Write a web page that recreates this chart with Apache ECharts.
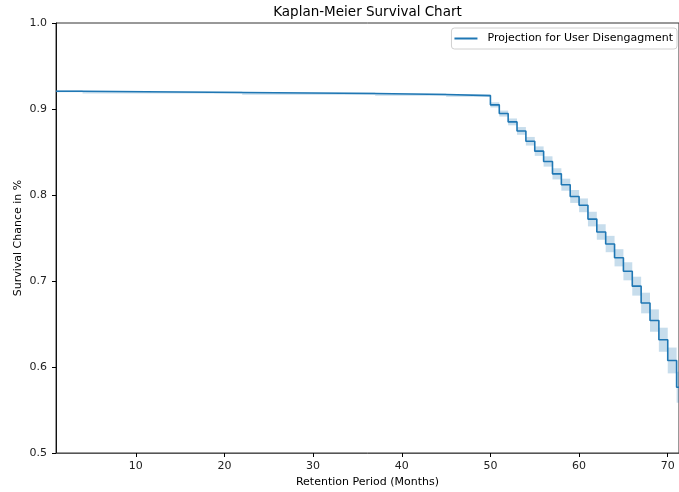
<!DOCTYPE html>
<html>
<head>
<meta charset="utf-8">
<script src="https://cdn.jsdelivr.net/npm/echarts@6/dist/echarts.min.js"></script>
<style>
html,body{margin:0;padding:0;background:#fff;overflow:hidden;}
#chart{width:679px;height:492px;}
</style>
</head>
<body>
<div id="chart"></div>
<script>
// ---- data ----
const times    = [1, 4, 22, 37, 45, 50, 51, 52, 53, 54, 55, 56, 57, 58, 59, 60, 61, 62, 63, 64, 65, 66, 67, 68, 69, 70, 71];
const survival = [0.9207, 0.9191, 0.9180, 0.9168, 0.9156, 0.9048, 0.8947, 0.8850, 0.8745, 0.8625, 0.8510, 0.8390, 0.8246, 0.8120, 0.7983, 0.7880, 0.7720, 0.7570, 0.7430, 0.7270, 0.7113, 0.6940, 0.6744, 0.6540, 0.6317, 0.6076, 0.5765];
const ciLower  = [0.9195, 0.9179, 0.9167, 0.9155, 0.9142, 0.9018, 0.8912, 0.8810, 0.8700, 0.8575, 0.8455, 0.8330, 0.8181, 0.8050, 0.7908, 0.7800, 0.7635, 0.7480, 0.7335, 0.7170, 0.7008, 0.6830, 0.6624, 0.6410, 0.6177, 0.5926, 0.5585];
const ciUpper  = [0.9219, 0.9203, 0.9193, 0.9181, 0.9170, 0.9078, 0.8982, 0.8890, 0.8790, 0.8675, 0.8565, 0.8450, 0.8311, 0.8190, 0.8058, 0.7960, 0.7805, 0.7660, 0.7525, 0.7370, 0.7218, 0.7050, 0.6864, 0.6670, 0.6457, 0.6226, 0.5945];
const endTime  = 72;
const xTicks   = [10, 20, 30, 40, 50, 60, 70];
const yTicks   = [0.5, 0.6, 0.7, 0.8, 0.9, 1.0];
const seriesName = 'Projection for User Disengagment';

// ---- build series data ----
const lineData = times.map((t, i) => [t, survival[i]]);
lineData.push([endTime, survival[survival.length - 1]]);
const bandData = times.map((t, i) => [t, i + 1 < times.length ? times[i + 1] : endTime, ciLower[i], ciUpper[i]]);

const FONT = 'DejaVu Sans';
const FS = 11;
const chart = echarts.init(document.getElementById('chart'), null, {renderer: 'canvas'});
chart.setOption({
  animation: false,
  backgroundColor: '#fff',
  textStyle: {fontFamily: FONT},
  title: {
    text: 'Kaplan-Meier Survival Chart',
    left: 367.5, top: 5, textAlign: 'center', padding: 0,
    textStyle: {fontFamily: FONT, fontSize: 13.5, fontWeight: 'normal', color: '#000'}
  },
  legend: {
    data: [seriesName],
    right: 2, top: 28,
    padding: [4, 4, 4, 3],
    borderColor: '#d0d0d0', borderWidth: 1, borderRadius: 3,
    backgroundColor: 'rgba(255,255,255,0.8)',
    icon: 'rect', itemWidth: 23, itemHeight: 2,
    textStyle: {fontFamily: FONT, fontSize: FS, color: '#000', padding: [0, 0, 0, 5], lineHeight: 13}
  },
  grid: {
    left: 56, right: 0, top: 23, bottom: 39,
    outerBoundsMode: 'none', containLabel: false,
    show: true, borderColor: '#333', borderWidth: 1, backgroundColor: 'transparent'
  },
  xAxis: {
    type: 'value', min: 1, max: 71.27,
    name: 'Retention Period (Months)', nameLocation: 'middle', nameGap: 23.5, nameMoveOverlap: false,
    nameTextStyle: {fontFamily: FONT, fontSize: FS, color: '#000'},
    axisLine: {show: true, lineStyle: {color: '#555', width: 1}},
    axisTick: {show: true, length: 4, lineStyle: {color: '#000'}, customValues: xTicks},
    axisLabel: {fontFamily: FONT, fontSize: FS, color: '#222', margin: 8, customValues: xTicks},
    splitLine: {show: false}
  },
  yAxis: {
    type: 'value', min: 0.5, max: 1.0,
    name: 'Survival Chance in %', nameLocation: 'middle', nameGap: 32.5, nameRotate: 90, nameMoveOverlap: false,
    nameTextStyle: {fontFamily: FONT, fontSize: FS, color: '#000'},
    axisLine: {show: true, lineStyle: {color: '#111', width: 1}},
    axisTick: {show: true, length: 4, lineStyle: {color: '#000'}, customValues: yTicks},
    axisLabel: {fontFamily: FONT, fontSize: FS, color: '#222', margin: 9, customValues: yTicks,
      formatter: v => Number(v).toFixed(1)},
    splitLine: {show: false}
  },
  series: [
    {
      name: 'CI', type: 'custom', silent: true, z: 1,
      renderItem: function (params, api) {
        const p0 = api.coord([api.value(0), api.value(3)]);
        const p1 = api.coord([api.value(1), api.value(2)]);
        const shape = echarts.graphic.clipRectByRect(
          {x: p0[0], y: p0[1], width: p1[0] - p0[0], height: p1[1] - p0[1]},
          {x: params.coordSys.x, y: params.coordSys.y, width: params.coordSys.width, height: params.coordSys.height}
        );
        return shape && {type: 'rect', shape: shape, style: {fill: 'rgba(31,119,180,0.25)'}};
      },
      encode: {x: [0, 1], y: [2, 3]},
      data: bandData
    },
    {
      name: seriesName, type: 'line', step: 'end', z: 3,
      showSymbol: false, symbol: 'none',
      lineStyle: {color: '#1f77b4', width: 1.6},
      itemStyle: {color: '#1f77b4'},
      data: lineData
    }
  ]
});
</script>
</body>
</html>
